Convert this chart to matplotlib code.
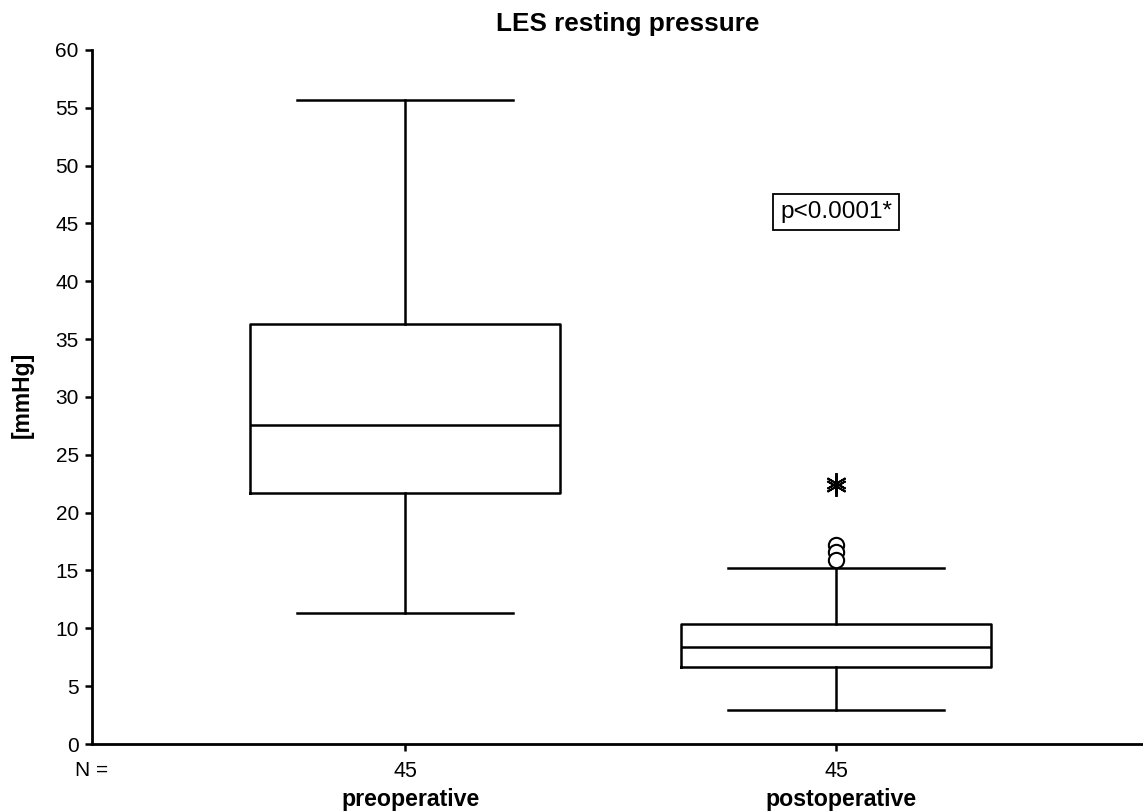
import matplotlib
matplotlib.use("Agg")
import matplotlib.pyplot as plt

plt.rcParams['font.family'] = ['Liberation Sans', 'DejaVu Sans']

groups = ['preoperative', 'postoperative']
n_counts = [45, 45]
medians = [27.6, 8.4]
q1 = [21.7, 6.7]
q3 = [36.3, 10.4]
whisk_lo = [11.3, 2.9]
whisk_hi = [55.7, 15.2]
outliers = [[], [17.2, 16.6, 15.9]]
extremes = [[], [22.6, 22.3]]
p_text = 'p<0.0001*'
p_y = 46.0

stats = []
for i, g in enumerate(groups):
    stats.append(dict(label=g, med=medians[i], q1=q1[i], q3=q3[i],
                      whislo=whisk_lo[i], whishi=whisk_hi[i], fliers=outliers[i]))

fig = plt.figure(figsize=(11.43, 8.11), dpi=100)
ax = fig.add_axes([0.0805, 0.0826, 0.9195, 0.8558])

positions = [1, 2]
lw = 1.8
ax.bxp(stats, positions=positions, widths=0.72, showfliers=True,
       boxprops=dict(color='black', linewidth=lw),
       medianprops=dict(color='black', linewidth=lw),
       whiskerprops=dict(color='black', linewidth=lw),
       capprops=dict(color='black', linewidth=lw),
       capwidths=0.5,
       flierprops=dict(marker='o', markersize=11, markerfacecolor='white',
                       markeredgecolor='black', markeredgewidth=1.5))

# extreme values drawn as asterisks
for pos, ext in zip(positions, extremes):
    if ext:
        ax.plot([pos] * len(ext), ext, linestyle='none', marker=(6, 2, 0),
                markersize=15, color='black', markeredgewidth=1.4)

ax.set_xlim(0.274, 2.712)
ax.set_ylim(0, 60)
ax.set_yticks(range(0, 61, 5))
ax.set_xticks(positions)
ax.set_xticklabels([str(n) for n in n_counts], fontsize=15.5)
ax.tick_params(axis='y', labelsize=15, length=5, width=1.8, direction='out', pad=4.5)
ax.tick_params(axis='x', length=5, width=1.8, direction='out', pad=7.5)

for side in ['top', 'right']:
    ax.spines[side].set_visible(False)
for side in ['left', 'bottom']:
    ax.spines[side].set_linewidth(2.0)

trans = ax.get_xaxis_transform()
ax.text(0.0, -0.0375, 'N =', transform=ax.transAxes, ha='center', va='center',
        fontsize=15)
for pos, g in zip(positions, groups):
    ax.text(pos + 0.012, -0.0795, g, transform=trans, ha='center', va='center',
            fontsize=16.7, fontweight='bold')

fig.text(22 / 1143, 1 - 395 / 811, '[mmHg]', rotation=90, ha='center',
         va='center', fontsize=16.5, fontweight='bold')
fig.text(628 / 1143, 1 - 24 / 811, 'LES resting pressure', ha='center',
         va='center', fontsize=18.8, fontweight='bold')

ax.text(2.0, p_y, p_text, ha='center', va='center', fontsize=17.5,
        bbox=dict(boxstyle='square,pad=0.3', facecolor='white',
                  edgecolor='black', linewidth=1.3))

fig.savefig('out.png', dpi=100)
